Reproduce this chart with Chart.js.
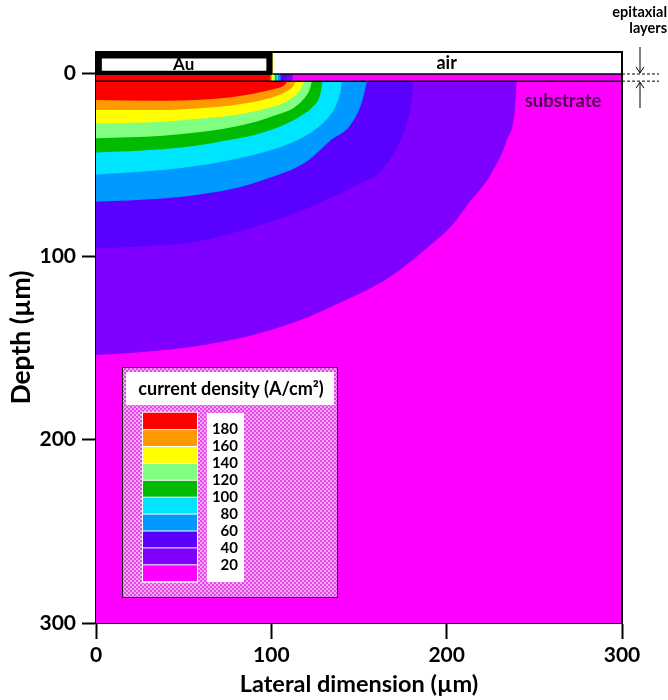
<!DOCTYPE html>
<html><head><meta charset="utf-8">
<script src="https://cdn.jsdelivr.net/npm/chart.js@4/dist/chart.umd.min.js"></script>
<style>html,body{margin:0;padding:0;background:#fff}</style>
</head><body>
<canvas id="c" width="668" height="700"></canvas>
<script>
const FONT = 'Lato, "Open Sans", "DejaVu Sans", sans-serif';

// ---- data ----
const xTicks = [0, 100, 200, 300];
const yTicks = [0, 100, 200, 300];
const legendLabels = ['180', '160', '140', '120', '100', '80', '60', '40', '20'];
// band colours, highest band first (>180 ... <20)
const bandColors = ['#ff0000', '#ff9900', '#ffff00', '#80ff80', '#00bb00', '#00e5ff', '#0099ff', '#5a00ff', '#7f00ff', '#ff00ff'];

// contour boundaries in the substrate: [lateral µm, depth µm]
const contour180 = [[0,14.7],[38,15.1],[57,14.7],[76,13.3],[85.6,12.0],[95,10.2],[102.7,8.4],[107.4,6.6],[109.3,4.4]];
const contour160 = [[0,20.2],[38,20.2],[57,19.3],[76,17.8],[85.6,16.5],[95,14.7],[102.7,12.5],[108.4,10.2],[112.2,7.5],[114,4.4]];
const contour140 = [[0,27.5],[38,26.5],[57,25.1],[76,23.3],[89.4,21.1],[100.8,18.4],[108.4,15.6],[114,12.0],[117,8.4],[118.8,4.4]];
const contour120 = [[0,35.6],[38,34.2],[57,32.4],[76,29.8],[91.3,26.5],[102.7,22.9],[112.2,19.3],[117.9,14.7],[121.7,9.3],[123.2,4.4]];
const contour100 = [[0,43.3],[38,41.5],[57,39.6],[76,36.5],[91.3,33.5],[104.6,29.3],[116,23.8],[123.6,18.4],[127.8,12.0],[129.3,4.4]];
const contour80  = [[0,55.3],[38,52.9],[57,50.7],[76,47.5],[95,43.3],[110.3,38.4],[121.7,32.9],[131.2,25.6],[136.9,17.5],[139.4,10.2],[140.3,4.4]];
const contour60  = [[0,70.2],[38,68.4],[57,66.5],[76,63.5],[95,58.4],[120,48.4],[134,36.5],[145,28.4],[151.7,15.8],[154.6,4.4]];
const contour40  = [[0,95.5],[30,94.5],[57,92],[90,84],[120,74],[148.7,61],[162,53.8],[171.5,41],[177,28.4],[180,15.6],[181,4.4]];
const contour20  = [[0,153.8],[28.5,152],[57,149],[85.6,143.8],[114,135.7],[142.6,123.8],[158,116.6],[171,109],[188.6,95.6],[204.5,81.5],[213,70.5],[219.5,63],[225,55.6],[234,37.5],[239,19.3],[240,4.4]];
const contours = [contour180, contour160, contour140, contour120, contour100, contour80, contour60, contour40, contour20];

// lateral extent of each colour inside the thin epitaxial layers (same order as bandColors)
const epiEdges = [99.6, 100.5, 101.5, 102.3, 103, 104, 105.4, 109, 112.2, 300];
const epiBottom = 4.4;   // depth of layer / substrate interface (µm)
const auRight = 100.8;   // Au contact lateral extent (µm)
const yTopLimit = -11.5;

// ---- datasets ----
const pts = a => a.map(([x, y]) => ({x, y}));
const layers = [];
function add(ds) { layers.push(Object.assign({showLine: true, pointRadius: 0, pointHoverRadius: 0, borderWidth: 0, borderColor: 'rgba(0,0,0,0)'}, ds)); }

add({data: pts([[0,300],[300,300]]), fill: 'end', backgroundColor: bandColors[9]});
for (let i = contours.length - 1; i >= 0; i--) {
  add({data: pts(contours[i]), fill: 'end', backgroundColor: bandColors[i], cubicInterpolationMode: 'monotone'});
}
for (let i = epiEdges.length - 1; i >= 0; i--) {
  add({data: pts([[0,epiBottom],[epiEdges[i],epiBottom]]), fill: 'end', backgroundColor: bandColors[i]});
}
add({data: pts([[0,epiBottom],[300,epiBottom]]), borderColor: '#000', borderWidth: 1.5, fill: false});
add({data: pts([[auRight,0.5],[300,0.5]]), fill: {value: yTopLimit}, backgroundColor: '#fff', borderColor: '#000', borderWidth: 1.5, clip: false});
add({data: pts([[0,1.1],[auRight,1.1]]), fill: {value: yTopLimit}, backgroundColor: '#000'});
add({data: pts([[3.2,-1.3],[97.3,-1.3]]), fill: {value: -8.0}, backgroundColor: '#fff'});
add({data: pts([[0,yTopLimit],[300,yTopLimit],[300,300]]), borderColor: '#000', borderWidth: 2, fill: false, clip: false});

layers.forEach((d, i) => d.order = 1000 - i);

// ---- annotation / legend plugin ----
const patternCanvas = document.createElement('canvas');
patternCanvas.width = 4; patternCanvas.height = 4;
{ const p = patternCanvas.getContext('2d');
  p.fillStyle = '#f8a8f8'; p.fillRect(0,0,4,4);
  p.fillStyle = '#e248e2'; p.fillRect(0,0,2,2); p.fillRect(2,2,2,2); }

const annot = {
  id: 'annot',
  afterDraw(chart) {
    const ctx = chart.ctx, xs = chart.scales.x, ys = chart.scales.y;
    ctx.save();
    ctx.textAlign = 'center'; ctx.textBaseline = 'middle';
    ctx.fillStyle = '#000';
    ctx.font = 'bold 17px ' + FONT;
    ctx.fillText('Au', xs.getPixelForValue(50), ys.getPixelForValue(-4.9));
    ctx.font = 'bold 18px ' + FONT;
    ctx.fillText('air', xs.getPixelForValue(200), ys.getPixelForValue(-5.2));
    ctx.font = 'bold 18.5px ' + FONT;
    ctx.fillStyle = '#500050';
    ctx.fillText('substrate', xs.getPixelForValue(266.4), ys.getPixelForValue(15.3));

    ctx.fillStyle = '#000';
    ctx.font = 'bold 14.5px ' + FONT;
    ctx.textAlign = 'right';
    ctx.fillText('epitaxial', 667, 12);
    ctx.fillText('layers', 667, 28);
    const y0 = ys.getPixelForValue(0.5), y1 = ys.getPixelForValue(epiBottom);
    ctx.strokeStyle = '#000'; ctx.lineWidth = 1;
    ctx.setLineDash([3, 2]);
    ctx.beginPath();
    ctx.moveTo(622, y0); ctx.lineTo(659, y0);
    ctx.moveTo(622, y1); ctx.lineTo(659, y1);
    ctx.stroke();
    ctx.setLineDash([]);
    const ax = 640;
    ctx.beginPath();
    ctx.moveTo(ax, 47); ctx.lineTo(ax, y0 - 1);
    ctx.moveTo(ax - 4, y0 - 7); ctx.lineTo(ax, y0 - 1); ctx.lineTo(ax + 4, y0 - 7);
    ctx.moveTo(ax, 108); ctx.lineTo(ax, y1 + 1);
    ctx.moveTo(ax - 4, y1 + 7); ctx.lineTo(ax, y1 + 1); ctx.lineTo(ax + 4, y1 + 7);
    ctx.stroke();

    // colour-scale legend
    const L = 122, T = 367, W = 216, H = 231;
    ctx.fillStyle = ctx.createPattern(patternCanvas, 'repeat');
    ctx.fillRect(L, T, W, H);
    ctx.strokeStyle = '#222'; ctx.lineWidth = 1;
    ctx.strokeRect(L + 0.5, T + 0.5, W - 1, H - 1);
    ctx.fillStyle = '#fff';
    ctx.fillRect(126, 372, 208, 33);
    ctx.fillStyle = '#000';
    ctx.textAlign = 'center';
    ctx.font = 'bold 18px ' + FONT;
    ctx.fillText('current density (A/cm²)', 231, 389);
    const sx = 143, sw = 54, sy = 412.7, sh = 16.9;
    ctx.fillStyle = '#fff';
    ctx.fillRect(sx - 1, sy - 1, sw + 2, sh * bandColors.length + 2);
    bandColors.forEach((c, i) => {
      ctx.fillStyle = c;
      ctx.fillRect(sx, sy + i * sh + (i ? 0.5 : 0), sw, sh - (i ? 0.5 : 0) - 0.5);
    });
    ctx.fillStyle = '#fff';
    ctx.fillRect(207, 413, 37, 169);
    ctx.fillStyle = '#000';
    ctx.textAlign = 'right';
    ctx.font = 'bold 15px ' + FONT;
    legendLabels.forEach((t, i) => ctx.fillText(t, 238, sy + (i + 1) * sh));
    ctx.restore();
  }
};

new Chart(document.getElementById('c'), {
  type: 'scatter',
  data: {datasets: layers},
  options: {
    responsive: false,
    animation: false,
    events: [],
    layout: {padding: {top: 52, right: 46, left: 0, bottom: 0}},
    plugins: {legend: {display: false}, tooltip: {enabled: false}},
    scales: {
      x: {
        type: 'linear', min: 0, max: 300, z: 1,
        afterBuildTicks: s => { s.ticks = xTicks.map(v => ({value: v})); },
        afterFit: s => { s.height = 77; },
        grid: {display: true, drawOnChartArea: false, drawTicks: true, tickLength: 16, tickColor: '#000', tickWidth: 2},
        border: {display: true, color: '#000', width: 2},
        ticks: {color: '#000', padding: 4, font: {family: FONT, size: 21, weight: 'bold'}, maxRotation: 0},
        title: {display: true, text: 'Lateral dimension (µm)', color: '#000', padding: {top: 0, bottom: 1}, font: {family: FONT, size: 23.5, weight: 'bold'}}
      },
      y: {
        type: 'linear', min: yTopLimit, max: 300, reverse: true, z: 1,
        afterBuildTicks: s => { s.ticks = yTicks.map(v => ({value: v})); },
        afterFit: s => { s.width = 96; },
        grid: {display: true, drawOnChartArea: false, drawTicks: true, tickLength: 14, tickColor: '#000', tickWidth: 2},
        border: {display: true, color: '#000', width: 2},
        ticks: {color: '#000', padding: 6, font: {family: FONT, size: 21, weight: 'bold'}},
        title: {display: true, text: 'Depth (µm)', color: '#000', padding: {top: 6, bottom: 0}, font: {family: FONT, size: 26.5, weight: 'bold'}}
      }
    }
  },
  plugins: [annot]
});
</script>
</body></html>
